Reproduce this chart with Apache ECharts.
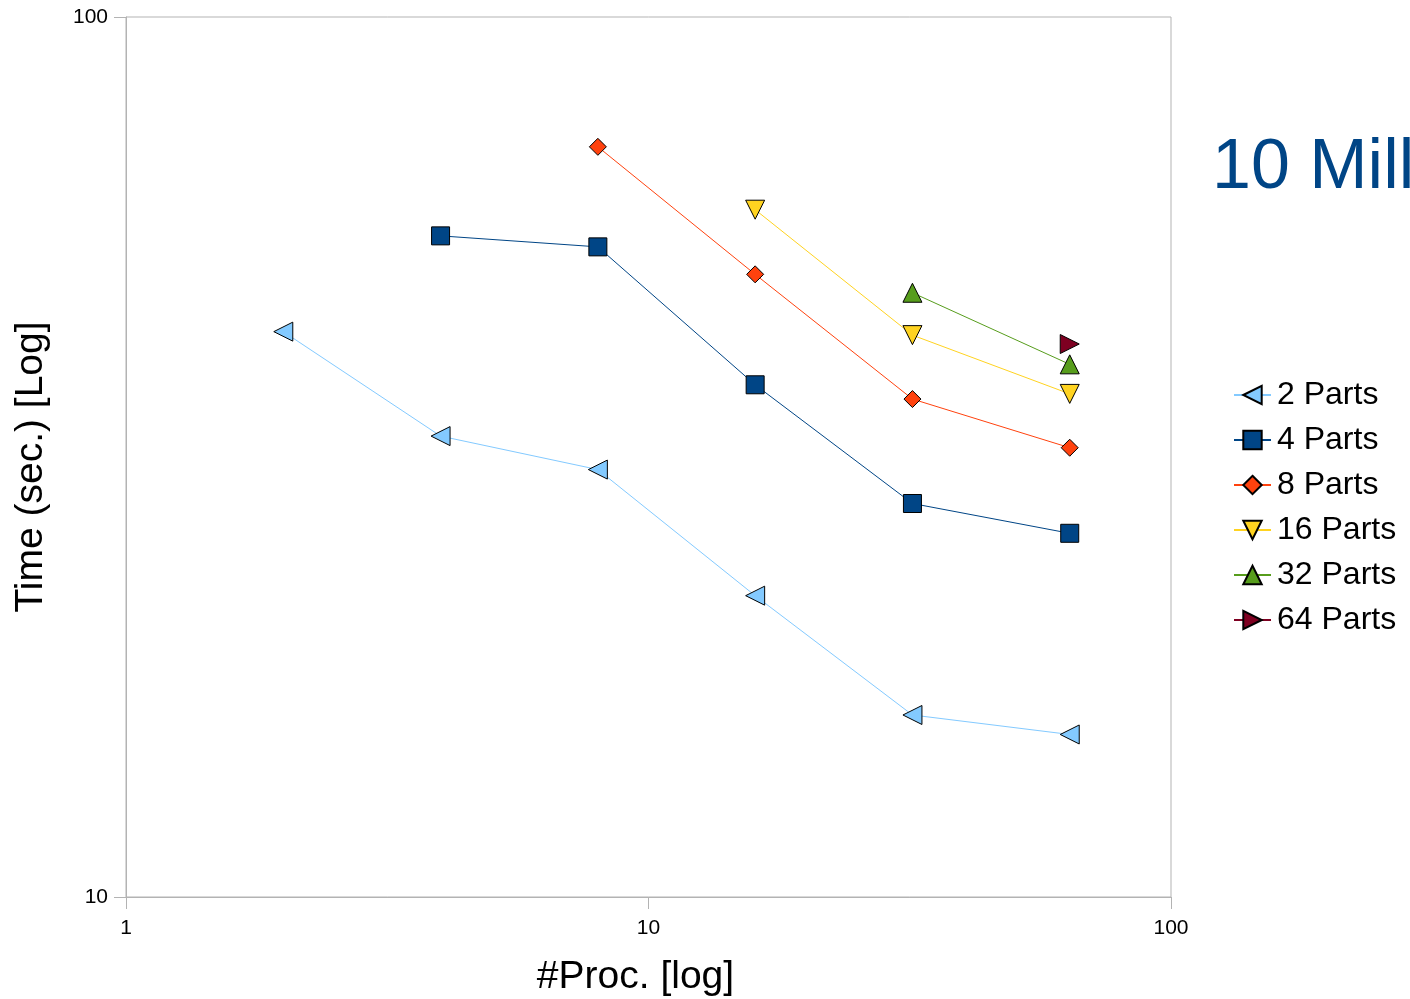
<!DOCTYPE html>
<html>
<head>
<meta charset="utf-8">
<script src="https://cdn.jsdelivr.net/npm/echarts@6/dist/echarts.min.js"></script>
<style>
html,body{margin:0;padding:0;background:#fff;}
#chart{width:1410px;height:999px;}
</style>
</head>
<body>
<div id="chart"></div>
<script>
var procs = [2, 4, 8, 16, 32, 64];
var parts2  = [43.9, 33.4, 30.6, 22.0, 16.1, 15.3];
var parts4  = [null, 56.4, 54.8, 38.2, 28.0, 25.9];
var parts8  = [null, null, 71.2, 51.0, 36.8, 32.4];
var parts16 = [null, null, null, 60.4, 43.5, 37.3];
var parts32 = [null, null, null, null, 48.6, 40.3];
var parts64 = [null, null, null, null, null, 42.5];
var seriesNames = ['2 Parts', '4 Parts', '8 Parts', '16 Parts', '32 Parts', '64 Parts'];
var xTicks = [1, 10, 100];
var yTicks = [10, 100];

var seriesValues = [parts2, parts4, parts8, parts16, parts32, parts64];
var colors = ['#83caff', '#004586', '#ff420e', '#ffd320', '#579d1c', '#7e0021'];
var symbols = ['triangle', 'rect', 'diamond', 'triangle', 'triangle', 'triangle'];
var rotates = [90, 0, 0, 180, 0, -90];
var sizes = [19, 18, 17, 19, 19, 19];

function pairs(vals) {
  var out = [];
  for (var i = 0; i < procs.length; i++) {
    if (vals[i] != null) out.push([procs[i], vals[i]]);
  }
  return out;
}

var series = seriesNames.map(function (name, i) {
  return {
    name: name,
    type: 'line',
    data: pairs(seriesValues[i]),
    symbol: symbols[i],
    symbolRotate: rotates[i],
    symbolSize: sizes[i],
    lineStyle: { color: colors[i], width: 1 },
    itemStyle: { color: colors[i], borderColor: '#000', borderWidth: 1 },
    emphasis: { disabled: true },
    animation: false
  };
});

var chart = echarts.init(document.getElementById('chart'));
chart.setOption({
  backgroundColor: '#fff',
  animation: false,
  textStyle: { fontFamily: 'Liberation Sans' },
  grid: {
    left: 126, top: 17, right: 239, bottom: 102,
    outerBoundsMode: 'none',
    containLabel: false,
    show: true, borderColor: '#b3b3b3', borderWidth: 1
  },
  legend: {
    orient: 'vertical',
    left: 1233,
    top: 379,
    padding: 0,
    itemWidth: 37,
    itemHeight: 23,
    itemGap: 13,
    data: seriesNames,
    textStyle: { fontSize: 32, color: '#000', fontFamily: 'Liberation Sans', padding: [0, 0, 0, 1] }
  },
  graphic: [{
    type: 'text',
    left: 1212,
    top: 134,
    style: { text: '10 Mill', fill: '#004586', font: '70px "Liberation Sans"' }
  }],
  xAxis: {
    type: 'log',
    logBase: 10,
    min: xTicks[0],
    max: xTicks[xTicks.length - 1],
    name: '#Proc. [log]',
    nameLocation: 'middle',
    nameGap: 61,
    nameTextStyle: { fontSize: 39, color: '#000', padding: [0, 26, 0, 0] },
    axisLine: { lineStyle: { color: '#b3b3b3', width: 1 } },
    axisTick: { show: true, length: 12, lineStyle: { color: '#b3b3b3' } },
    axisLabel: { fontSize: 21, color: '#000', margin: 21 },
    splitLine: { show: false },
    minorTick: { show: false }
  },
  yAxis: {
    type: 'log',
    logBase: 10,
    min: yTicks[0],
    max: yTicks[yTicks.length - 1],
    name: 'Time (sec.) [Log]',
    nameLocation: 'middle',
    nameGap: 75,
    nameTextStyle: { fontSize: 39, color: '#000', padding: [0, 20, 0, 0] },
    axisLine: { show: true, lineStyle: { color: '#b3b3b3', width: 1 } },
    axisTick: { show: true, length: 12, lineStyle: { color: '#b3b3b3' } },
    axisLabel: { fontSize: 21, color: '#000', margin: 18 },
    splitLine: { show: false }
  },
  series: series
});
</script>
</body>
</html>
